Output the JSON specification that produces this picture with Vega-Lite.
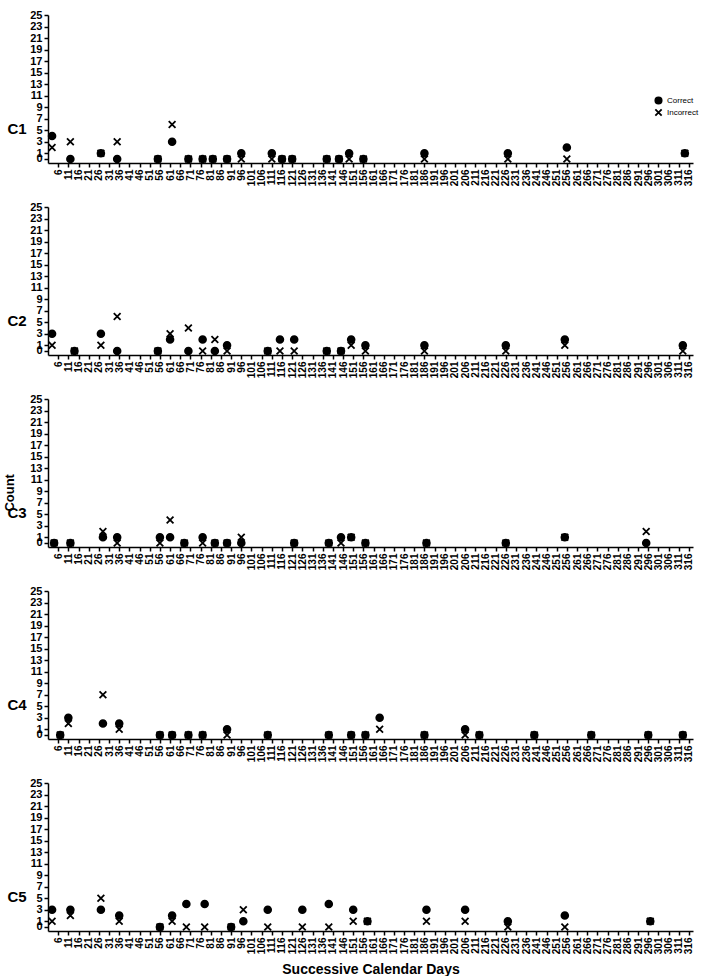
{
  "$schema": "https://vega.github.io/schema/vega-lite/v6.json",
  "padding": {"left": 4, "top": 9, "right": 5, "bottom": 0},
  "config": {
    "font": "Liberation Sans",
    "view": {"stroke": null},
    "concat": {"spacing": 15},
    "axis": {"grid": false, "domainColor": "black", "tickColor": "black", "labelColor": "black", "titleColor": "black", "domainWidth": 1.5, "tickWidth": 1.5},
    "axisX": {"labelAngle": 270, "labelFontSize": 10, "labelFontWeight": "bold", "tickSize": 4, "labelPadding": 2, "labelFlush": false, "labelOverlap": false, "title": null},
    "axisY": {"labelFontSize": 11, "labelFontWeight": "bold", "tickSize": 4, "labelPadding": 2, "labelOverlap": false, "labelFlush": false,
      "titleAngle": 0, "titleX": -41, "titleY": 113, "titleAlign": "left", "titleBaseline": "middle", "titleFontSize": 15, "titleFontWeight": "bold"},
    "point": {"stroke": "black", "strokeWidth": 1.8, "size": 46, "opacity": 1}
  },
  "datasets": {"counts": [
    {"p":"C1","day":3,"Correct":4,"Incorrect":2},
    {"p":"C1","day":12,"Correct":0,"Incorrect":3},
    {"p":"C1","day":27,"Correct":1,"Incorrect":1},
    {"p":"C1","day":35,"Correct":0,"Incorrect":3},
    {"p":"C1","day":55,"Correct":0,"Incorrect":0},
    {"p":"C1","day":62,"Correct":3,"Incorrect":6},
    {"p":"C1","day":70,"Correct":0,"Incorrect":0},
    {"p":"C1","day":77,"Correct":0,"Incorrect":0},
    {"p":"C1","day":82,"Correct":0,"Incorrect":0},
    {"p":"C1","day":89,"Correct":0,"Incorrect":0},
    {"p":"C1","day":96,"Correct":1,"Incorrect":0},
    {"p":"C1","day":111,"Correct":1,"Incorrect":0},
    {"p":"C1","day":116,"Correct":0,"Incorrect":0},
    {"p":"C1","day":121,"Correct":0,"Incorrect":0},
    {"p":"C1","day":138,"Correct":0,"Incorrect":0},
    {"p":"C1","day":144,"Correct":0,"Incorrect":0},
    {"p":"C1","day":149,"Correct":1,"Incorrect":0},
    {"p":"C1","day":156,"Correct":0,"Incorrect":0},
    {"p":"C1","day":186,"Correct":1,"Incorrect":0},
    {"p":"C1","day":227,"Correct":1,"Incorrect":0},
    {"p":"C1","day":256,"Correct":2,"Incorrect":0},
    {"p":"C1","day":314,"Correct":1,"Incorrect":1},
    {"p":"C2","day":3,"Correct":3,"Incorrect":1},
    {"p":"C2","day":14,"Correct":0,"Incorrect":0},
    {"p":"C2","day":27,"Correct":3,"Incorrect":1},
    {"p":"C2","day":35,"Correct":0,"Incorrect":6},
    {"p":"C2","day":55,"Correct":0,"Incorrect":0},
    {"p":"C2","day":61,"Correct":2,"Incorrect":3},
    {"p":"C2","day":70,"Correct":0,"Incorrect":4},
    {"p":"C2","day":77,"Correct":2,"Incorrect":0},
    {"p":"C2","day":83,"Correct":0,"Incorrect":2},
    {"p":"C2","day":89,"Correct":1,"Incorrect":0},
    {"p":"C2","day":109,"Correct":0,"Incorrect":0},
    {"p":"C2","day":115,"Correct":2,"Incorrect":0},
    {"p":"C2","day":122,"Correct":2,"Incorrect":0},
    {"p":"C2","day":138,"Correct":0,"Incorrect":0},
    {"p":"C2","day":145,"Correct":0,"Incorrect":0},
    {"p":"C2","day":150,"Correct":2,"Incorrect":1},
    {"p":"C2","day":157,"Correct":1,"Incorrect":0},
    {"p":"C2","day":186,"Correct":1,"Incorrect":0},
    {"p":"C2","day":226,"Correct":1,"Incorrect":0},
    {"p":"C2","day":255,"Correct":2,"Incorrect":1},
    {"p":"C2","day":313,"Correct":1,"Incorrect":0},
    {"p":"C3","day":4,"Correct":0,"Incorrect":0},
    {"p":"C3","day":12,"Correct":0,"Incorrect":0},
    {"p":"C3","day":28,"Correct":1,"Incorrect":2},
    {"p":"C3","day":35,"Correct":1,"Incorrect":0},
    {"p":"C3","day":56,"Correct":1,"Incorrect":0},
    {"p":"C3","day":61,"Correct":1,"Incorrect":4},
    {"p":"C3","day":68,"Correct":0,"Incorrect":0},
    {"p":"C3","day":77,"Correct":1,"Incorrect":0},
    {"p":"C3","day":83,"Correct":0,"Incorrect":0},
    {"p":"C3","day":89,"Correct":0,"Incorrect":0},
    {"p":"C3","day":96,"Correct":0,"Incorrect":1},
    {"p":"C3","day":122,"Correct":0,"Incorrect":0},
    {"p":"C3","day":139,"Correct":0,"Incorrect":0},
    {"p":"C3","day":145,"Correct":1,"Incorrect":0},
    {"p":"C3","day":150,"Correct":1,"Incorrect":1},
    {"p":"C3","day":157,"Correct":0,"Incorrect":0},
    {"p":"C3","day":187,"Correct":0,"Incorrect":0},
    {"p":"C3","day":226,"Correct":0,"Incorrect":0},
    {"p":"C3","day":255,"Correct":1,"Incorrect":1},
    {"p":"C3","day":295,"Correct":0,"Incorrect":2},
    {"p":"C4","day":7,"Correct":0,"Incorrect":0},
    {"p":"C4","day":11,"Correct":3,"Incorrect":2},
    {"p":"C4","day":28,"Correct":2,"Incorrect":7},
    {"p":"C4","day":36,"Correct":2,"Incorrect":1},
    {"p":"C4","day":56,"Correct":0,"Incorrect":0},
    {"p":"C4","day":62,"Correct":0,"Incorrect":0},
    {"p":"C4","day":70,"Correct":0,"Incorrect":0},
    {"p":"C4","day":77,"Correct":0,"Incorrect":0},
    {"p":"C4","day":89,"Correct":1,"Incorrect":0},
    {"p":"C4","day":109,"Correct":0,"Incorrect":0},
    {"p":"C4","day":139,"Correct":0,"Incorrect":0},
    {"p":"C4","day":150,"Correct":0,"Incorrect":0},
    {"p":"C4","day":157,"Correct":0,"Incorrect":0},
    {"p":"C4","day":164,"Correct":3,"Incorrect":1},
    {"p":"C4","day":186,"Correct":0,"Incorrect":0},
    {"p":"C4","day":206,"Correct":1,"Incorrect":0},
    {"p":"C4","day":213,"Correct":0,"Incorrect":0},
    {"p":"C4","day":240,"Correct":0,"Incorrect":0},
    {"p":"C4","day":268,"Correct":0,"Incorrect":0},
    {"p":"C4","day":296,"Correct":0,"Incorrect":0},
    {"p":"C4","day":313,"Correct":0,"Incorrect":0},
    {"p":"C5","day":3,"Correct":3,"Incorrect":1},
    {"p":"C5","day":12,"Correct":3,"Incorrect":2},
    {"p":"C5","day":27,"Correct":3,"Incorrect":5},
    {"p":"C5","day":36,"Correct":2,"Incorrect":1},
    {"p":"C5","day":56,"Correct":0,"Incorrect":0},
    {"p":"C5","day":62,"Correct":2,"Incorrect":1},
    {"p":"C5","day":69,"Correct":4,"Incorrect":0},
    {"p":"C5","day":78,"Correct":4,"Incorrect":0},
    {"p":"C5","day":91,"Correct":0,"Incorrect":0},
    {"p":"C5","day":97,"Correct":1,"Incorrect":3},
    {"p":"C5","day":109,"Correct":3,"Incorrect":0},
    {"p":"C5","day":126,"Correct":3,"Incorrect":0},
    {"p":"C5","day":139,"Correct":4,"Incorrect":0},
    {"p":"C5","day":151,"Correct":3,"Incorrect":1},
    {"p":"C5","day":158,"Correct":1,"Incorrect":1},
    {"p":"C5","day":187,"Correct":3,"Incorrect":1},
    {"p":"C5","day":206,"Correct":3,"Incorrect":1},
    {"p":"C5","day":227,"Correct":1,"Incorrect":0},
    {"p":"C5","day":255,"Correct":2,"Incorrect":0},
    {"p":"C5","day":297,"Correct":1,"Incorrect":1}
  ]},
  "data": {"name": "counts"},
  "transform": [{"fold": ["Correct", "Incorrect"], "as": ["type", "n"]}],
  "title": {"text": "Count", "orient": "left", "anchor": "middle", "offset": -10, "fontSize": 13, "fontWeight": "bold", "color": "black"},
  "resolve": {"scale": {"shape": "independent", "fill": "independent"}, "legend": {"shape": "independent", "fill": "independent"}},
  "vconcat": [
    {
      "width": 645, "height": 148,
      "transform": [{"filter": "datum.p === 'C1'"}],
      "mark": "point",
      "encoding": {
        "x": {"field": "day", "type": "quantitative", "scale": {"domain": [1, 318], "nice": false, "zero": false},
          "axis": {"values": [6,11,16,21,26,31,36,41,46,51,56,61,66,71,76,81,86,91,96,101,106,111,116,121,126,131,136,141,146,151,156,161,166,171,176,181,186,191,196,201,206,211,216,221,226,231,236,241,246,251,256,261,266,271,276,281,286,291,296,301,306,311,316]}},
        "y": {"field": "n", "type": "quantitative", "scale": {"domain": [-0.7, 25], "nice": false, "zero": false},
          "axis": {"title": "C1", "values": [0,1,3,5,7,9,11,13,15,17,19,21,23,25]}},
        "shape": {"field": "type", "type": "nominal", "scale": {"domain": ["Correct", "Incorrect"], "range": ["circle", "M-1,-1L1,1M-1,1L1,-1"]},
          "legend": {"title": null, "orient": "none", "legendX": 606, "legendY": 81, "labelFontSize": 8, "labelColor": "black", "symbolSize": 40, "rowPadding": -3, "padding": 0,
            "encode": {"symbols": {"update": {"stroke": {"value": "black"}, "strokeWidth": {"value": 1.8}}}}}},
        "fill": {"field": "type", "type": "nominal", "scale": {"domain": ["Correct", "Incorrect"], "range": ["black", "transparent"]},
          "legend": {"title": null, "orient": "none", "legendX": 606, "legendY": 81, "labelFontSize": 8, "labelColor": "black", "symbolSize": 40, "rowPadding": -3, "padding": 0,
            "encode": {"symbols": {"update": {"stroke": {"value": "black"}, "strokeWidth": {"value": 1.8}}}}}}
      }
    },
    {
      "width": 645, "height": 148,
      "transform": [{"filter": "datum.p === 'C2'"}],
      "mark": "point",
      "encoding": {
        "x": {"field": "day", "type": "quantitative", "scale": {"domain": [1, 318], "nice": false, "zero": false},
          "axis": {"values": [6,11,16,21,26,31,36,41,46,51,56,61,66,71,76,81,86,91,96,101,106,111,116,121,126,131,136,141,146,151,156,161,166,171,176,181,186,191,196,201,206,211,216,221,226,231,236,241,246,251,256,261,266,271,276,281,286,291,296,301,306,311,316]}},
        "y": {"field": "n", "type": "quantitative", "scale": {"domain": [-0.7, 25], "nice": false, "zero": false},
          "axis": {"title": "C2", "values": [0,1,3,5,7,9,11,13,15,17,19,21,23,25]}},
        "shape": {"field": "type", "type": "nominal", "scale": {"domain": ["Correct", "Incorrect"], "range": ["circle", "M-1,-1L1,1M-1,1L1,-1"]}, "legend": null},
        "fill": {"field": "type", "type": "nominal", "scale": {"domain": ["Correct", "Incorrect"], "range": ["black", "transparent"]}, "legend": null}
      }
    },
    {
      "width": 645, "height": 148,
      "transform": [{"filter": "datum.p === 'C3'"}],
      "mark": "point",
      "encoding": {
        "x": {"field": "day", "type": "quantitative", "scale": {"domain": [1, 318], "nice": false, "zero": false},
          "axis": {"values": [6,11,16,21,26,31,36,41,46,51,56,61,66,71,76,81,86,91,96,101,106,111,116,121,126,131,136,141,146,151,156,161,166,171,176,181,186,191,196,201,206,211,216,221,226,231,236,241,246,251,256,261,266,271,276,281,286,291,296,301,306,311,316]}},
        "y": {"field": "n", "type": "quantitative", "scale": {"domain": [-0.7, 25], "nice": false, "zero": false},
          "axis": {"title": "C3", "values": [0,1,3,5,7,9,11,13,15,17,19,21,23,25]}},
        "shape": {"field": "type", "type": "nominal", "scale": {"domain": ["Correct", "Incorrect"], "range": ["circle", "M-1,-1L1,1M-1,1L1,-1"]}, "legend": null},
        "fill": {"field": "type", "type": "nominal", "scale": {"domain": ["Correct", "Incorrect"], "range": ["black", "transparent"]}, "legend": null}
      }
    },
    {
      "width": 645, "height": 148,
      "transform": [{"filter": "datum.p === 'C4'"}],
      "mark": "point",
      "encoding": {
        "x": {"field": "day", "type": "quantitative", "scale": {"domain": [1, 318], "nice": false, "zero": false},
          "axis": {"values": [6,11,16,21,26,31,36,41,46,51,56,61,66,71,76,81,86,91,96,101,106,111,116,121,126,131,136,141,146,151,156,161,166,171,176,181,186,191,196,201,206,211,216,221,226,231,236,241,246,251,256,261,266,271,276,281,286,291,296,301,306,311,316]}},
        "y": {"field": "n", "type": "quantitative", "scale": {"domain": [-0.7, 25], "nice": false, "zero": false},
          "axis": {"title": "C4", "values": [0,1,3,5,7,9,11,13,15,17,19,21,23,25]}},
        "shape": {"field": "type", "type": "nominal", "scale": {"domain": ["Correct", "Incorrect"], "range": ["circle", "M-1,-1L1,1M-1,1L1,-1"]}, "legend": null},
        "fill": {"field": "type", "type": "nominal", "scale": {"domain": ["Correct", "Incorrect"], "range": ["black", "transparent"]}, "legend": null}
      }
    },
    {
      "width": 645, "height": 148,
      "transform": [{"filter": "datum.p === 'C5'"}],
      "mark": "point",
      "encoding": {
        "x": {"field": "day", "type": "quantitative", "scale": {"domain": [1, 318], "nice": false, "zero": false},
          "axis": {"title": "Successive Calendar Days", "titleFontSize": 14, "titleFontWeight": "bold", "titlePadding": 9,
            "values": [6,11,16,21,26,31,36,41,46,51,56,61,66,71,76,81,86,91,96,101,106,111,116,121,126,131,136,141,146,151,156,161,166,171,176,181,186,191,196,201,206,211,216,221,226,231,236,241,246,251,256,261,266,271,276,281,286,291,296,301,306,311,316]}},
        "y": {"field": "n", "type": "quantitative", "scale": {"domain": [-0.7, 25], "nice": false, "zero": false},
          "axis": {"title": "C5", "values": [0,1,3,5,7,9,11,13,15,17,19,21,23,25]}},
        "shape": {"field": "type", "type": "nominal", "scale": {"domain": ["Correct", "Incorrect"], "range": ["circle", "M-1,-1L1,1M-1,1L1,-1"]}, "legend": null},
        "fill": {"field": "type", "type": "nominal", "scale": {"domain": ["Correct", "Incorrect"], "range": ["black", "transparent"]}, "legend": null}
      }
    }
  ]
}
